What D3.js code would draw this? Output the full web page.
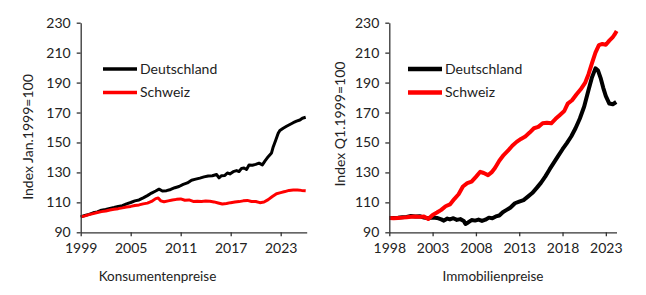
<!DOCTYPE html>
<html>
<head>
<meta charset="utf-8">
<script src="https://cdn.jsdelivr.net/npm/d3@7"></script>
<style>
  body { margin: 0; background: #fff; }
  text { font-family: Lato, "Open Sans", sans-serif; fill: #222; }
</style>
</head>
<body>
<div id="chart"></div>
<script>
// Konsumentenpreise (Index Jan.1999=100), position in years on the axis
const cpiTime = [1999.0,1999.5,2000.0,2000.5,2001.0,2001.5,2002.0,2002.5,2003.0,2003.5,2004.0,2004.5,2005.0,2005.5,2006.0,2006.5,2007.0,2007.5,2008.0,2008.4,2008.8,2009.3,2009.8,2010.3,2010.8,2011.3,2011.8,2012.3,2012.8,2013.3,2013.8,2014.3,2014.8,2015.3,2015.6,2015.9,2016.3,2016.6,2016.9,2017.3,2017.7,2018.0,2018.3,2018.6,2018.9,2019.2,2019.6,2020.0,2020.4,2020.8,2021.1,2021.5,2021.9,2022.1,2022.4,2022.7,2022.9,2023.3,2023.7,2024.1,2024.5,2024.9,2025.3,2025.6,2026.0];
const cpiDE = [100.3,101.2,102.0,103.0,103.6,104.8,105.3,106.0,106.6,107.3,107.8,109.0,109.9,111.0,111.6,113.0,114.5,116.2,117.6,118.8,117.6,117.8,118.6,119.8,120.6,122.0,123.0,124.8,125.5,126.2,127.0,127.6,127.8,128.6,126.4,127.8,128.0,129.6,129.0,130.5,131.2,130.6,132.7,133.0,132.0,135.0,134.8,135.4,136.2,135.0,137.5,140.5,143.0,147.0,151.5,156.1,158.0,159.5,160.8,162.0,163.2,164.2,165.0,166.2,166.8];
const cpiTimeCH = [1999.0,1999.5,2000.0,2000.5,2001.0,2001.5,2002.0,2002.5,2003.0,2003.5,2004.0,2004.5,2005.0,2005.5,2006.0,2006.5,2007.0,2007.5,2008.0,2008.3,2008.6,2009.0,2009.5,2010.0,2010.5,2011.0,2011.5,2012.0,2012.5,2013.0,2013.5,2014.0,2014.5,2015.0,2015.5,2016.0,2016.5,2017.0,2017.5,2018.0,2018.5,2019.0,2019.5,2020.0,2020.5,2021.0,2021.5,2022.0,2022.5,2023.0,2023.5,2024.0,2024.5,2025.0,2025.5,2026.0];
const cpiCH = [100.3,101.0,101.8,102.5,103.2,103.8,104.2,104.9,105.4,105.8,106.3,106.9,107.3,107.9,108.3,109.0,109.5,110.6,112.5,112.9,111.0,110.4,111.0,111.6,112.0,112.3,111.4,111.6,110.6,110.8,110.6,110.9,110.7,110.3,109.6,108.9,109.2,109.8,110.2,110.5,111.0,111.3,110.6,110.6,109.8,110.2,111.8,113.9,115.8,116.5,117.2,118.0,118.2,118.3,118.0,117.8];

// Immobilienpreise (Index Q1.1999=100)
const hpTimeDE = [1998.0,1998.5,1999.0,1999.5,2000.0,2000.5,2001.0,2001.5,2002.0,2002.5,2003.0,2003.5,2004.0,2004.3,2004.7,2005.0,2005.4,2005.8,2006.2,2006.6,2006.8,2007.1,2007.5,2007.9,2008.3,2008.7,2009.1,2009.5,2009.9,2010.3,2010.7,2011.1,2011.5,2012.0,2012.5,2013.0,2013.5,2014.0,2014.5,2015.0,2015.5,2016.0,2016.5,2017.0,2017.5,2018.0,2018.5,2019.0,2019.5,2020.0,2020.5,2021.0,2021.4,2021.8,2022.1,2022.4,2022.7,2023.0,2023.4,2023.8,2024.2];
const hpDE = [99.5,99.6,99.8,100.1,100.3,100.9,100.6,100.8,99.8,99.4,99.9,99.6,98.6,97.8,99.2,98.6,99.4,98.3,98.8,97.6,95.6,96.6,98.2,97.8,98.5,97.6,98.4,99.8,99.4,100.6,101.2,103.4,104.8,106.6,109.4,110.5,111.5,113.8,116.2,119.5,123.0,127.2,132.0,136.5,141.0,145.5,149.6,154.0,159.5,166.0,174.0,185.0,193.5,199.5,198.0,193.0,186.5,181.0,176.0,175.5,177.0];
const hpTimeCH = [1998.0,1998.5,1999.0,1999.5,2000.0,2000.5,2001.0,2001.5,2002.0,2002.5,2003.0,2003.5,2004.0,2004.5,2005.0,2005.5,2006.0,2006.5,2007.0,2007.5,2008.0,2008.5,2008.9,2009.4,2009.8,2010.2,2010.7,2011.2,2011.7,2012.2,2012.7,2013.2,2013.7,2014.2,2014.7,2015.2,2015.7,2016.2,2016.7,2017.2,2017.7,2018.2,2018.6,2019.1,2019.6,2020.1,2020.6,2021.0,2021.4,2021.8,2022.2,2022.6,2023.0,2023.4,2023.8,2024.0,2024.25];
const hpCH = [99.6,99.4,99.6,99.8,100.0,100.4,100.6,100.3,100.6,98.9,101.6,103.2,105.0,107.4,108.6,112.2,115.4,120.6,122.8,123.8,127.0,130.4,129.6,128.2,130.0,133.0,137.8,141.6,144.5,147.8,150.4,152.4,154.0,156.6,159.5,160.4,162.8,163.2,162.8,165.8,168.4,171.0,176.0,178.2,182.0,185.5,189.8,195.6,203.0,210.0,215.0,215.8,215.3,218.0,220.4,222.0,224.5];

const yTicks = [90, 110, 130, 150, 170, 190, 210, 230];
const cpiTicks = [1999, 2005, 2011, 2017, 2023];
const hpTicks = [1998, 2003, 2008, 2013, 2018, 2023];
const seriesNames = ["Deutschland", "Schweiz"];
const colors = ["#000000", "#ff0000"];

const width = 646, height = 295;

const svg = d3.select("#chart").append("svg")
  .attr("width", width)
  .attr("height", height);

function panel(opt) {
  const x = d3.scaleLinear().domain(opt.xDomain).range(opt.xRange);
  const y = d3.scaleLinear().domain([90, 230]).range([232.3, 22.7]);

  // lines
  opt.series.forEach((s, i) => {
    const pts = s.t.map((t, j) => [t, s.v[j]]);
    svg.append("path")
      .datum(pts)
      .attr("fill", "none")
      .attr("stroke", colors[i])
      .attr("stroke-width", opt.lw)
      .attr("stroke-linejoin", "round")
      .attr("d", d3.line().x(d => x(d[0])).y(d => y(d[1])));
  });

  // axes
  const gx = svg.append("g")
    .attr("transform", `translate(0,${y(90)})`)
    .call(d3.axisBottom(x).tickValues(opt.xTicks).tickFormat(d3.format("d"))
      .tickSize(4).tickSizeOuter(0).tickPadding(5));
  const gy = svg.append("g")
    .attr("transform", `translate(${opt.xRange[0]},0)`)
    .call(d3.axisLeft(y).tickValues(yTicks).tickSize(4).tickSizeOuter(0).tickPadding(6));
  [gx, gy].forEach(g => {
    g.select(".domain").attr("stroke", "#333").attr("stroke-width", 1.3);
    g.selectAll(".tick line").attr("stroke", "#333").attr("stroke-width", 1.3);
    g.selectAll(".tick text").style("font-size", "14px").style("font-family", "Lato, sans-serif").attr("fill", "#222");
  });
  gx.selectAll(".tick text").attr("dy", "0.85em");

  // y title
  svg.append("text")
    .attr("transform", `translate(${opt.yTitleX},${opt.yTitleY}) rotate(-90)`)
    .attr("text-anchor", "middle")
    .style("font-size", "14px")
    .text(opt.yTitle);

  // x title
  svg.append("text")
    .attr("x", opt.xTitleX)
    .attr("y", 281)
    .attr("text-anchor", "middle")
    .style("font-size", "13.5px")
    .text(opt.xTitle);

  // legend
  seriesNames.forEach((name, i) => {
    const ly = 69 + i * 23.5;
    svg.append("line")
      .attr("x1", opt.legX).attr("x2", opt.legX + 34)
      .attr("y1", ly).attr("y2", ly)
      .attr("stroke", colors[i]).attr("stroke-width", opt.lw + 0.5);
    svg.append("text")
      .attr("x", opt.legX + 37)
      .attr("y", ly)
      .attr("dy", "0.35em")
      .style("font-size", "14px")
      .text(name);
  });
}

panel({
  xDomain: [1999, 2026.12], xRange: [80.7, 306.7], xTicks: cpiTicks,
  series: [{t: cpiTime, v: cpiDE}, {t: cpiTimeCH, v: cpiCH}],
  lw: 3, yTitle: "Index Jan.1999=100", yTitleX: 33, yTitleY: 137,
  xTitle: "Konsumentenpreise", xTitleX: 157.5, legX: 103
});

panel({
  xDomain: [1998, 2024.23], xRange: [389.3, 616.5], xTicks: hpTicks,
  series: [{t: hpTimeDE, v: hpDE}, {t: hpTimeCH, v: hpCH}],
  lw: 4, yTitle: "Index Q1.1999=100", yTitleX: 345, yTitleY: 124,
  xTitle: "Immobilienpreise", xTitleX: 493, legX: 408
});
</script>
</body>
</html>
